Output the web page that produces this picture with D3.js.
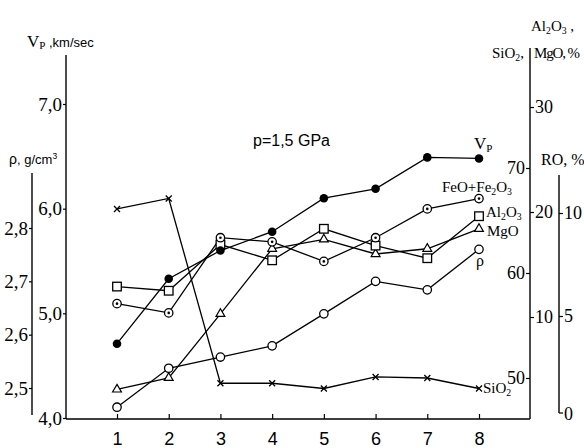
<!doctype html>
<html lang="en">
<head>
<meta charset="utf-8">
<title>Vp, density and oxides</title>
<script src="https://cdnjs.cloudflare.com/ajax/libs/d3/7.8.5/d3.min.js"></script>
<style>
  body { margin: 0; background: #fff; }
</style>
</head>
<body>
<svg width="584" height="448" id="svg"></svg>
<script>
// sample numbers on the x axis
var samples = [1, 2, 3, 4, 5, 6, 7, 8];

// values
var vp    = [4.71, 5.33, 5.60, 5.78, 6.10, 6.19, 6.49, 6.48];   // km/sec
var rho   = [2.464, 2.537, 2.558, 2.579, 2.639, 2.700, 2.684, 2.760]; // g/cm3
var feo   = [5.6, 5.15, 8.8, 8.6, 7.65, 8.8, 10.2, 10.7];      // RO, %
var al2o3 = [12.9, 12.5, 16.9, 15.4, 18.4, 16.8, 15.6, 19.6];  // %
var mgo   = [3.1, 4.2, 10.3, 16.5, 17.4, 16.0, 16.5, 18.4];    // %
var sio2  = [66.1, 67.1, 49.5, 49.5, 49.0, 50.1, 50.0, 49.0];  // %

var vpTicks = [4, 5, 6, 7];
var rhoTicks = [2.5, 2.6, 2.7, 2.8];
var sioTicks = [50, 60, 70];
var alTicks = [10, 20, 30];
var roTicks = [0, 5, 10];

var SERIF = '"Liberation Serif", "DejaVu Serif", serif';
var SANS = '"Liberation Sans Narrow", "Liberation Sans", Arial, sans-serif';

var svg = d3.select('#svg');
var comma = function(d) { return d3.format('.1f')(d).replace('.', ','); };

// scales
var x = d3.scaleLinear().domain([1, 8]).range([117, 479]);
var yVp = d3.scaleLinear().domain([4, 7]).range([418, 104]);
var yRho = d3.scaleLinear().domain([2.5, 2.8]).range([388, 228]);
var yRo = d3.scaleLinear().domain([0, 10]).range([419, 213]);
var yAl = d3.scaleLinear().domain([0, 30]).range([422, 107]);
var ySi = d3.scaleLinear().domain([50, 70]).range([378, 168]);

var ink = '#000';

function vline(xp, y0, y1) {
  svg.append('line').attr('x1', xp).attr('x2', xp).attr('y1', y0).attr('y2', y1)
    .attr('stroke', ink).attr('stroke-width', 1.4);
}

// axis lines
vline(66, 55, 419);
vline(32, 173, 415);
vline(530, 48, 419);
vline(559, 175, 413);
svg.append('line').attr('x1', 66).attr('x2', 530).attr('y1', 419).attr('y2', 419)
  .attr('stroke', ink).attr('stroke-width', 1.4);
svg.append('line').attr('x1', 559).attr('x2', 563).attr('y1', 413).attr('y2', 413)
  .attr('stroke', ink).attr('stroke-width', 1.2);

function styleAxis(g, fam, size) {
  g.select('.domain').remove();
  g.attr('font-family', null).attr('font-size', null);
  g.selectAll('line').attr('stroke', ink).attr('stroke-width', 1.2);
  g.selectAll('text').attr('fill', ink)
    .style('font-family', fam)
    .style('font-size', size + 'px');
}

// Vp axis
svg.append('g').attr('transform', 'translate(66,0)')
  .call(d3.axisLeft(yVp).tickValues(vpTicks).tickFormat(comma).tickSize(3).tickPadding(1))
  .call(styleAxis, SERIF, 19);

// density axis
svg.append('g').attr('transform', 'translate(32,0)')
  .call(d3.axisLeft(yRho).tickValues(rhoTicks).tickFormat(comma).tickSize(3).tickPadding(1))
  .call(styleAxis, SERIF, 19);

// SiO2 axis (left side of right axis)
svg.append('g').attr('transform', 'translate(530,0)')
  .call(d3.axisLeft(ySi).tickValues(sioTicks).tickFormat(d3.format('d')).tickSize(4).tickPadding(1))
  .call(styleAxis, SERIF, 18);

// Al2O3, MgO axis (right side)
svg.append('g').attr('transform', 'translate(530,0)')
  .call(d3.axisRight(yAl).tickValues(alTicks).tickFormat(d3.format('d')).tickSize(4).tickPadding(1))
  .call(styleAxis, SERIF, 18);

// RO axis
svg.append('g').attr('transform', 'translate(559,0)')
  .call(d3.axisRight(yRo).tickValues(roTicks.slice(1)).tickFormat(d3.format('d')).tickSize(4).tickPadding(1))
  .call(styleAxis, SERIF, 18);
svg.append('text').attr('x', 564).attr('y', 420)
  .style('font-family', SERIF).style('font-size', '18px').text(roTicks[0]);

// x axis
svg.append('g').attr('transform', 'translate(0,419)')
  .call(d3.axisTop(x).tickValues(samples).tickFormat(d3.format('d')).tickSize(5))
  .call(function(g) {
    styleAxis(g, SANS, 18);
    g.selectAll('text').attr('y', 26);
  });

// series lines
var line = function(sc) {
  return d3.line().x(function(d, i) { return x(samples[i]); }).y(function(d) { return sc(d); });
};
var series = [
  { v: sio2, s: ySi, m: 'cross' },
  { v: mgo, s: yAl, m: 'tri' },
  { v: al2o3, s: yAl, m: 'square' },
  { v: rho, s: yRho, m: 'circle' },
  { v: feo, s: yRo, m: 'dot' },
  { v: vp, s: yVp, m: 'filled' }
];

series.forEach(function(se) {
  svg.append('path').datum(se.v).attr('d', line(se.s))
    .attr('fill', 'none').attr('stroke', ink).attr('stroke-width', 1.3);
});

series.forEach(function(se) {
  var g = svg.append('g');
  se.v.forEach(function(d, i) {
    var px = x(samples[i]), py = se.s(d);
    if (se.m === 'filled') {
      g.append('circle').attr('cx', px).attr('cy', py).attr('r', 4.3).attr('fill', ink);
    } else if (se.m === 'circle') {
      g.append('circle').attr('cx', px).attr('cy', py).attr('r', 4.2)
        .attr('fill', '#fff').attr('stroke', ink).attr('stroke-width', 1.3);
    } else if (se.m === 'dot') {
      g.append('circle').attr('cx', px).attr('cy', py).attr('r', 4.2)
        .attr('fill', '#fff').attr('stroke', ink).attr('stroke-width', 1.3);
      g.append('circle').attr('cx', px).attr('cy', py).attr('r', 1.3).attr('fill', ink);
    } else if (se.m === 'square') {
      g.append('rect').attr('x', px - 4.3).attr('y', py - 4.3).attr('width', 8.6).attr('height', 8.6)
        .attr('fill', '#fff').attr('stroke', ink).attr('stroke-width', 1.3);
    } else if (se.m === 'tri') {
      g.append('path').attr('transform', 'translate(' + px + ',' + py + ')')
        .attr('d', d3.symbol().type(d3.symbolTriangle).size(34)())
        .attr('fill', '#fff').attr('stroke', ink).attr('stroke-width', 1.2);
    } else {
      g.append('path').attr('transform', 'translate(' + px + ',' + py + ')')
        .attr('d', 'M-3,-3L3,3M-3,3L3,-3')
        .attr('stroke', ink).attr('stroke-width', 1.3);
    }
  });
});

// text with subscripts: parts are [text, dy, small]
function label(xp, yp, parts, fam, size) {
  var t = svg.append('text').attr('x', xp).attr('y', yp)
    .style('font-family', fam).style('font-size', size + 'px').attr('fill', ink);
  parts.forEach(function(p) {
    var ts = t.append('tspan').text(p[0]);
    if (p[1]) ts.attr('dy', p[1]);
    if (p[2]) ts.style('font-size', (size * 0.65) + 'px');
  });
  return t;
}

// axis titles
label(27, 47, [['V'], ['P', 2, true]], SERIF, 17);
label(49, 47, [[',km/sec']], SANS, 13);
label(9, 164, [['ρ']], SANS, 14);
label(17, 164, [[', g/cm'], ['3', -5, true]], SANS, 13);

label(531, 31, [['Al'], ['2', 3, true], ['O', -3], ['3', 3, true], [' ,', -3]], SERIF, 15);
label(492, 58, [['SiO'], ['2', 3, true], [',', -3]], SERIF, 15);
label(534, 58, [['MgO, %']], SERIF, 15).attr('textLength', 46);
label(541, 165, [['RO, %']], SERIF, 16);

label(253, 146, [['p=1,5 GPa']], SANS, 16);

// series names
label(474, 149, [['V'], ['P', 3, true]], SERIF, 17);
label(442, 192, [['FeO+Fe'], ['2', 3, true], ['O', -3], ['3', 3, true]], SERIF, 15);
label(486, 217, [['Al'], ['2', 3, true], ['O', -3], ['3', 3, true]], SERIF, 15);
label(487, 236, [['MgO']], SERIF, 15);
label(476, 266, [['ρ']], SERIF, 16);
label(483, 393, [['SiO'], ['2', 3, true]], SERIF, 15);
</script>
</body>
</html>
